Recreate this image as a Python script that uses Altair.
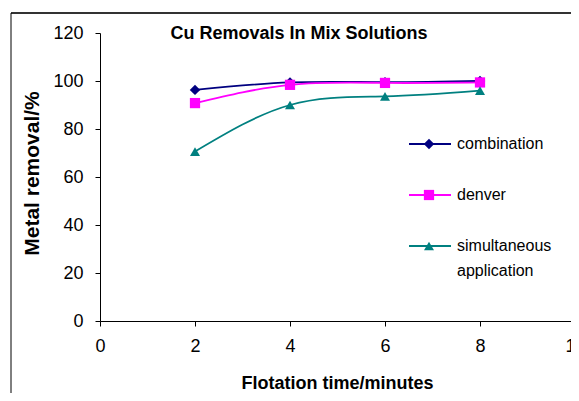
import altair as alt
import pandas as pd

# ---- data ----
minutes = [2, 4, 6, 8]
combination = [96.3, 99.4, 99.5, 100.0]
denver = [90.8, 98.4, 99.2, 99.4]
simultaneous = [70.6, 90.0, 93.6, 96.0]
series_names = ["combination", "denver", "simultaneous application"]
legend_labels = ["combination", "denver", "simultaneous\napplication"]
legend_rows = [0, 1, 2]
colors = ["#000080", "#FF00FF", "#008080"]
shapes = ["diamond", "square", "triangle-up"]
marker_sizes = [110, 100, 120]
x_ticks = [0, 2, 4, 6, 8, 10]
y_ticks = [0, 20, 40, 60, 80, 100, 120]
title_text = "Cu Removals In Mix Solutions"
x_title = "Flotation time/minutes"
y_title = "Metal removal/%"

rows = []
for name, vals in zip(series_names, [combination, denver, simultaneous]):
    for m, v in zip(minutes, vals):
        rows.append({"series": name, "minutes": m, "removal": v})
df = pd.DataFrame(rows)
legend_df = pd.DataFrame({"series": series_names, "label": legend_labels, "row": legend_rows})
one_df = pd.DataFrame({"t": [title_text]})

FONT = "Liberation Sans"
W, H = 467, 288
X_RANGE = [0, 475]

color_scale = alt.Scale(domain=series_names, range=colors)
shape_scale = alt.Scale(domain=series_names, range=shapes)
size_scale = alt.Scale(domain=series_names, range=marker_sizes)

x_enc = alt.X(
    "minutes:Q",
    scale=alt.Scale(domain=[0, 10], nice=False, zero=False, range=X_RANGE),
    axis=alt.Axis(
        values=x_ticks, title=x_title, grid=False, domainColor="black",
        tickColor="black", tickSize=5, labelPadding=11, labelFontSize=18,
        labelFont=FONT, labelColor="black", titleFont=FONT, titleFontSize=18,
        titleFontWeight="bold", titleColor="black", titleX=237,
        titleY=67, titleBaseline="alphabetic", titleAlign="center",
        labelFlush=False, labelOverlap=False,
    ),
)
y_enc = alt.Y(
    "removal:Q",
    scale=alt.Scale(domain=[0, 120], nice=False),
    axis=alt.Axis(
        values=y_ticks, title=y_title, grid=False, domainColor="black",
        tickColor="black", tickSize=5, labelPadding=12, labelFontSize=18,
        labelFont=FONT, labelColor="black", titleFont=FONT, titleFontSize=21,
        titleFontWeight="bold", titleColor="black", titleX=-62, titleY=140,
        titleBaseline="alphabetic", titleAlign="center", titleAngle=270,
        labelFlush=False, labelOverlap=False,
    ),
)

color_enc = alt.Color("series:N", scale=color_scale, legend=None)

lines = alt.Chart(df).mark_line(interpolate="natural", strokeWidth=1.8).encode(
    x=x_enc, y=y_enc, color=color_enc, detail="series:N"
)
points = alt.Chart(df).mark_point(filled=True, opacity=1).encode(
    x="minutes:Q",
    y=alt.Y("removal:Q", scale=alt.Scale(domain=[0, 120], nice=False), axis=None),
    color=color_enc,
    shape=alt.Shape("series:N", scale=shape_scale, legend=None),
    size=alt.Size("series:N", scale=size_scale, legend=None),
)

leg_y = alt.Y(
    "row:Q",
    scale=alt.Scale(domain=[0, 2], range=[111, 213], nice=False, zero=False),
    axis=None,
)
leg_rule = alt.Chart(legend_df).mark_rule(strokeWidth=1.8).encode(
    x=alt.value(309), x2=alt.value(351), y=leg_y, color=color_enc
)
leg_point = alt.Chart(legend_df).mark_point(filled=True, opacity=1).encode(
    x=alt.value(329), y=leg_y, color=color_enc,
    shape=alt.Shape("series:N", scale=shape_scale, legend=None),
    size=alt.Size("series:N", scale=size_scale, legend=None),
)
leg_text = alt.Chart(legend_df).mark_text(
    align="left", baseline="middle", font=FONT, fontSize=16, lineBreak="\n",
    lineHeight=25, color="black",
).encode(x=alt.value(357), y=leg_y, text="label:N")

title = alt.Chart(one_df).mark_text(
    align="center", baseline="alphabetic", font=FONT, fontSize=18,
    fontWeight="bold", color="black",
).encode(x=alt.value(199), y=alt.value(6), text="t:N")

top_border = alt.Chart(one_df).mark_rule(color="#333333", strokeWidth=2).encode(
    x=alt.value(-89), x2=alt.value(700), y=alt.value(-20)
)
left_border = alt.Chart(one_df).mark_rule(color="black", strokeWidth=1).encode(
    x=alt.value(-89), y=alt.value(-20), y2=alt.value(500)
)

chart = (
    alt.layer(top_border, left_border, lines, points, leg_rule, leg_point, leg_text, title)
    .resolve_scale(y="independent")
    .properties(
        width=W, height=H,
        autosize=alt.AutoSizeParams(type="none"),
        padding={"left": 92, "top": 25, "right": 4, "bottom": 72},
        background="white",
    )
    .configure_view(stroke=None)
)

chart.save("out.html", embed_options={"renderer": "svg", "actions": False})
